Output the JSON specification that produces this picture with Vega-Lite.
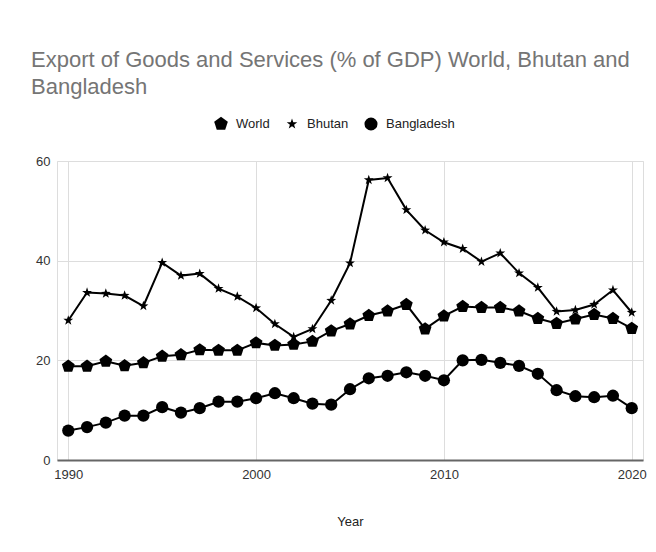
{
  "$schema": "https://vega.github.io/schema/vega-lite/v6.json",
  "width": 586,
  "height": 299,
  "autosize": {"type": "none"},
  "padding": {"left": 57, "top": 161, "right": 13, "bottom": 92},
  "background": "white",
  "title": {
    "text": ["Export of Goods and Services (% of GDP) World, Bhutan and", "Bangladesh"],
    "anchor": "start",
    "frame": "group",
    "dx": -26,
    "offset": 18,
    "font": "Liberation Sans",
    "fontSize": 22,
    "fontWeight": "normal",
    "color": "#757575",
    "lineHeight": 27
  },
  "data": {
    "values": [
      {"year": 1990, "country": "World", "value": 18.8},
      {"year": 1991, "country": "World", "value": 18.8},
      {"year": 1992, "country": "World", "value": 19.8},
      {"year": 1993, "country": "World", "value": 18.9},
      {"year": 1994, "country": "World", "value": 19.5},
      {"year": 1995, "country": "World", "value": 20.8},
      {"year": 1996, "country": "World", "value": 21.1},
      {"year": 1997, "country": "World", "value": 22.1},
      {"year": 1998, "country": "World", "value": 22.0},
      {"year": 1999, "country": "World", "value": 22.0},
      {"year": 2000, "country": "World", "value": 23.5},
      {"year": 2001, "country": "World", "value": 23.0},
      {"year": 2002, "country": "World", "value": 23.2},
      {"year": 2003, "country": "World", "value": 23.8},
      {"year": 2004, "country": "World", "value": 25.9},
      {"year": 2005, "country": "World", "value": 27.3},
      {"year": 2006, "country": "World", "value": 29.0},
      {"year": 2007, "country": "World", "value": 29.9},
      {"year": 2008, "country": "World", "value": 31.2},
      {"year": 2009, "country": "World", "value": 26.3},
      {"year": 2010, "country": "World", "value": 28.9},
      {"year": 2011, "country": "World", "value": 30.8},
      {"year": 2012, "country": "World", "value": 30.6},
      {"year": 2013, "country": "World", "value": 30.6},
      {"year": 2014, "country": "World", "value": 29.9},
      {"year": 2015, "country": "World", "value": 28.4},
      {"year": 2016, "country": "World", "value": 27.4},
      {"year": 2017, "country": "World", "value": 28.3},
      {"year": 2018, "country": "World", "value": 29.2},
      {"year": 2019, "country": "World", "value": 28.4},
      {"year": 2020, "country": "World", "value": 26.4},
      {"year": 1990, "country": "Bhutan", "value": 28.0},
      {"year": 1991, "country": "Bhutan", "value": 33.6},
      {"year": 1992, "country": "Bhutan", "value": 33.4},
      {"year": 1993, "country": "Bhutan", "value": 33.0},
      {"year": 1994, "country": "Bhutan", "value": 30.9},
      {"year": 1995, "country": "Bhutan", "value": 39.6},
      {"year": 1996, "country": "Bhutan", "value": 37.0},
      {"year": 1997, "country": "Bhutan", "value": 37.4},
      {"year": 1998, "country": "Bhutan", "value": 34.4},
      {"year": 1999, "country": "Bhutan", "value": 32.8},
      {"year": 2000, "country": "Bhutan", "value": 30.5},
      {"year": 2001, "country": "Bhutan", "value": 27.3},
      {"year": 2002, "country": "Bhutan", "value": 24.7},
      {"year": 2003, "country": "Bhutan", "value": 26.3},
      {"year": 2004, "country": "Bhutan", "value": 32.0},
      {"year": 2005, "country": "Bhutan", "value": 39.5},
      {"year": 2006, "country": "Bhutan", "value": 56.2},
      {"year": 2007, "country": "Bhutan", "value": 56.6},
      {"year": 2008, "country": "Bhutan", "value": 50.2},
      {"year": 2009, "country": "Bhutan", "value": 46.1},
      {"year": 2010, "country": "Bhutan", "value": 43.7},
      {"year": 2011, "country": "Bhutan", "value": 42.4},
      {"year": 2012, "country": "Bhutan", "value": 39.8},
      {"year": 2013, "country": "Bhutan", "value": 41.5},
      {"year": 2014, "country": "Bhutan", "value": 37.5},
      {"year": 2015, "country": "Bhutan", "value": 34.6},
      {"year": 2016, "country": "Bhutan", "value": 29.8},
      {"year": 2017, "country": "Bhutan", "value": 30.1},
      {"year": 2018, "country": "Bhutan", "value": 31.2},
      {"year": 2019, "country": "Bhutan", "value": 34.1},
      {"year": 2020, "country": "Bhutan", "value": 29.6},
      {"year": 1990, "country": "Bangladesh", "value": 5.9},
      {"year": 1991, "country": "Bangladesh", "value": 6.6},
      {"year": 1992, "country": "Bangladesh", "value": 7.5},
      {"year": 1993, "country": "Bangladesh", "value": 8.9},
      {"year": 1994, "country": "Bangladesh", "value": 8.9},
      {"year": 1995, "country": "Bangladesh", "value": 10.6},
      {"year": 1996, "country": "Bangladesh", "value": 9.5},
      {"year": 1997, "country": "Bangladesh", "value": 10.4},
      {"year": 1998, "country": "Bangladesh", "value": 11.7},
      {"year": 1999, "country": "Bangladesh", "value": 11.7},
      {"year": 2000, "country": "Bangladesh", "value": 12.4},
      {"year": 2001, "country": "Bangladesh", "value": 13.4},
      {"year": 2002, "country": "Bangladesh", "value": 12.4},
      {"year": 2003, "country": "Bangladesh", "value": 11.3},
      {"year": 2004, "country": "Bangladesh", "value": 11.1},
      {"year": 2005, "country": "Bangladesh", "value": 14.2},
      {"year": 2006, "country": "Bangladesh", "value": 16.4},
      {"year": 2007, "country": "Bangladesh", "value": 16.9},
      {"year": 2008, "country": "Bangladesh", "value": 17.6},
      {"year": 2009, "country": "Bangladesh", "value": 16.9},
      {"year": 2010, "country": "Bangladesh", "value": 16.0},
      {"year": 2011, "country": "Bangladesh", "value": 20.0},
      {"year": 2012, "country": "Bangladesh", "value": 20.1},
      {"year": 2013, "country": "Bangladesh", "value": 19.5},
      {"year": 2014, "country": "Bangladesh", "value": 18.9},
      {"year": 2015, "country": "Bangladesh", "value": 17.3},
      {"year": 2016, "country": "Bangladesh", "value": 14.0},
      {"year": 2017, "country": "Bangladesh", "value": 12.8},
      {"year": 2018, "country": "Bangladesh", "value": 12.6},
      {"year": 2019, "country": "Bangladesh", "value": 12.9},
      {"year": 2020, "country": "Bangladesh", "value": 10.4}
    ]
  },
  "encoding": {
    "x": {
      "field": "year",
      "type": "quantitative",
      "scale": {"domain": [1989.4, 2020.6], "nice": false, "zero": false},
      "axis": {
        "title": "Year",
        "values": [1990, 2000, 2010, 2020],
        "format": "d",
        "ticks": false,
        "grid": true,
        "gridColor": "#dddddd",
        "domainColor": "#666666",
        "domainWidth": 2,
        "labelFont": "Liberation Sans",
        "labelFontSize": 13,
        "labelColor": "#333333",
        "labelPadding": 8,
        "titleFont": "Liberation Sans",
        "titleFontSize": 13,
        "titleFontWeight": "normal",
        "titleColor": "#222222",
        "titlePadding": 34
      }
    },
    "y": {
      "field": "value",
      "type": "quantitative",
      "scale": {"domain": [0, 60], "nice": false},
      "axis": {
        "title": null,
        "values": [0, 20, 40, 60],
        "ticks": false,
        "domain": false,
        "grid": true,
        "gridColor": "#dddddd",
        "labelFont": "Liberation Sans",
        "labelFontSize": 13,
        "labelColor": "#333333",
        "labelPadding": 7
      }
    }
  },
  "layer": [
    {
      "mark": {"type": "line", "color": "black", "strokeWidth": 2},
      "encoding": {"detail": {"field": "country", "type": "nominal"}}
    },
    {
      "mark": {"type": "point", "filled": true, "color": "black", "opacity": 1, "size": 150},
      "encoding": {
        "shape": {
          "field": "country",
          "type": "nominal",
          "scale": {
            "domain": ["World", "Bhutan", "Bangladesh"],
            "range": [
              "M0,-1.1L1.046,-0.34L0.647,0.89L-0.647,0.89L-1.046,-0.34Z",
              "M0,-0.85L0.2,-0.275L0.808,-0.263L0.323,0.105L0.5,0.688L0,0.34L-0.5,0.688L-0.323,0.105L-0.808,-0.263L-0.2,-0.275Z",
              "circle"
            ]
          },
          "legend": {
            "title": null,
            "orient": "none",
            "direction": "horizontal",
            "legendX": 157,
            "legendY": -44,
            "symbolFillColor": "black",
            "symbolStrokeColor": "black",
            "symbolSize": 170,
            "symbolStrokeWidth": 0,
            "labelFont": "Liberation Sans",
            "labelFontSize": 13,
            "labelColor": "#222222",
            "labelOffset": 8,
            "columnPadding": 15
          }
        }
      }
    }
  ]
}
